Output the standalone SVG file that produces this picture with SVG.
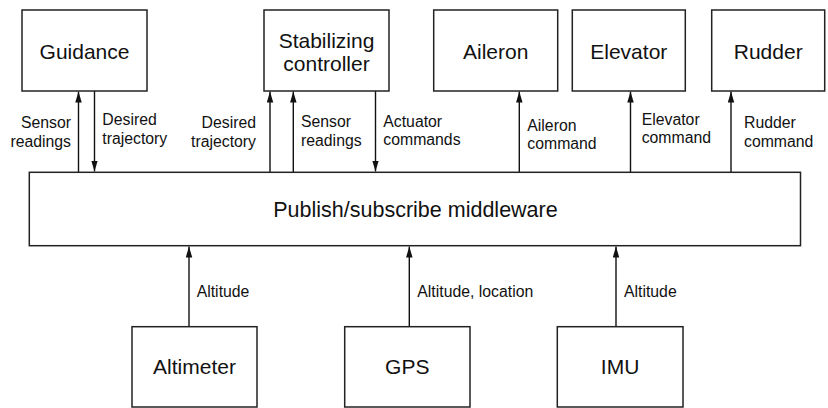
<svg xmlns="http://www.w3.org/2000/svg" width="828" height="408" viewBox="0 0 828 408">
<style>
.box{fill:#fff;stroke:#222;stroke-width:1.5}
.big{font-family:"Liberation Sans",Arial,Helvetica,sans-serif;font-size:21px;fill:#111;text-anchor:middle}
.lbl{font-family:"Liberation Sans",Arial,Helvetica,sans-serif;font-size:15.8px;fill:#111}
.end{text-anchor:end}
.ln{stroke:#111;stroke-width:1.4;fill:none;marker-end:url(#ah)}
</style>
<defs>
<marker id="ah" markerUnits="userSpaceOnUse" markerWidth="12" markerHeight="8" refX="11" refY="3.25" orient="auto">
<path d="M0,0 L11,3.25 L0,6.5 z" fill="#111"/>
</marker>
</defs>
<rect width="828" height="408" fill="#fff"/>
<g id="connectors">
<line class="ln" x1="78.5" y1="172" x2="78.5" y2="91.5"/>
<line class="ln" x1="94.5" y1="91" x2="94.5" y2="171.5"/>
<line class="ln" x1="270" y1="172" x2="270" y2="91.5"/>
<line class="ln" x1="293.3" y1="172" x2="293.3" y2="91.5"/>
<line class="ln" x1="375.5" y1="91" x2="375.5" y2="171.5"/>
<line class="ln" x1="519.3" y1="172" x2="519.3" y2="91.5"/>
<line class="ln" x1="630.5" y1="172" x2="630.5" y2="91.5"/>
<line class="ln" x1="731" y1="172" x2="731" y2="91.5"/>
<line class="ln" x1="189" y1="326.7" x2="189" y2="246.5"/>
<line class="ln" x1="409.3" y1="326.7" x2="409.3" y2="246.5"/>
<line class="ln" x1="616" y1="326.7" x2="616" y2="246.5"/>
<text class="lbl end" x="71" y="128">Sensor</text>
<text class="lbl end" x="71" y="146.5">readings</text>
<text class="lbl" x="102.3" y="125">Desired</text>
<text class="lbl" x="102.3" y="143.5">trajectory</text>
<text class="lbl end" x="256" y="128">Desired</text>
<text class="lbl end" x="256" y="147">trajectory</text>
<text class="lbl" x="301" y="127">Sensor</text>
<text class="lbl" x="301" y="145.5">readings</text>
<text class="lbl" x="383.3" y="126.7">Actuator</text>
<text class="lbl" x="383.3" y="145">commands</text>
<text class="lbl" x="527.3" y="130.5">Aileron</text>
<text class="lbl" x="527.3" y="148.5">command</text>
<text class="lbl" x="641.7" y="125">Elevator</text>
<text class="lbl" x="641.7" y="143">command</text>
<text class="lbl" x="744" y="128.3">Rudder</text>
<text class="lbl" x="744" y="146.5">command</text>
<text class="lbl" x="196.7" y="296.7">Altitude</text>
<text class="lbl" x="417.3" y="296.7">Altitude, location</text>
<text class="lbl" x="624" y="296.7">Altitude</text>
</g>
<g id="guidance"><rect class="box" x="22" y="10" width="125" height="81"/><text class="big" x="84.5" y="59">Guidance</text></g>
<g id="stabilizing"><rect class="box" x="264" y="10" width="125" height="81"/><text class="big" x="326.5" y="48">Stabilizing</text><text class="big" x="326.5" y="70.5">controller</text></g>
<g id="aileron"><rect class="box" x="433.7" y="10" width="124" height="81"/><text class="big" x="495.7" y="58.5">Aileron</text></g>
<g id="elevator"><rect class="box" x="572.3" y="10" width="113" height="81"/><text class="big" x="628.8" y="58.5">Elevator</text></g>
<g id="rudder"><rect class="box" x="711.7" y="10" width="113" height="81"/><text class="big" x="768.2" y="58.5">Rudder</text></g>
<g id="middleware"><rect class="box" x="29.3" y="172.3" width="771.2" height="73.4"/><text class="big" x="415.5" y="217" style="font-size:21.5px">Publish/subscribe middleware</text></g>
<g id="altimeter"><rect class="box" x="132" y="326.7" width="125" height="80.3"/><text class="big" x="194.5" y="374">Altimeter</text></g>
<g id="gps"><rect class="box" x="344.7" y="326.7" width="125.3" height="80.3"/><text class="big" x="407.3" y="374">GPS</text></g>
<g id="imu"><rect class="box" x="557.3" y="326.7" width="125.7" height="80.3"/><text class="big" x="620.1" y="374">IMU</text></g>
</svg>
